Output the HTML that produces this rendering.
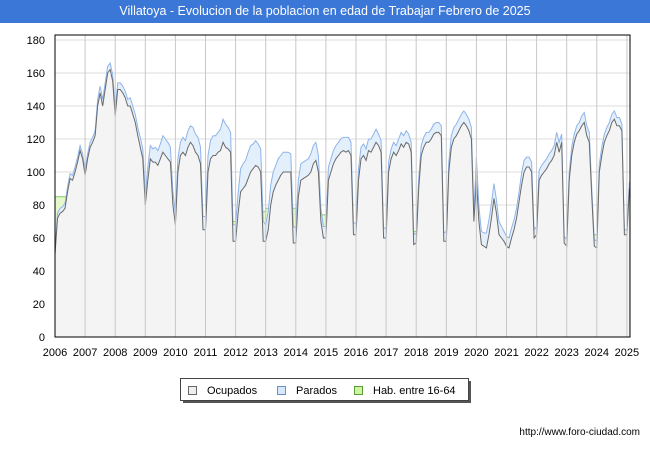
<!DOCTYPE html>
<html><head><meta charset="utf-8"><style>
body{margin:0;width:650px;height:450px;background:#fff;font-family:"Liberation Sans","DejaVu Sans",sans-serif;overflow:hidden;position:relative}
#title{position:absolute;left:0;top:0;width:650px;height:23px;background:#3a77d6;color:#fff;font-size:12.5px;line-height:23px;text-align:center}
#url{position:absolute;right:10px;top:427px;font-size:10px;color:#000}
</style></head><body>
<div id="title">Villatoya - Evolucion de la poblacion en edad de Trabajar Febrero de 2025</div>
<svg id="chart" width="650" height="450" style="position:absolute;left:0;top:0"></svg>
<div id="url">http://www.foro-ciudad.com</div>
<script>
const years=["2006","2007","2008","2009","2010","2011","2012","2013","2014","2015","2016","2017","2018","2019","2020","2021","2022","2023","2024","2025"];
const yTicks=[0,20,40,60,80,100,120,140,160,180];
const ocupados=[
50,72,75,76,78,88,96,95,100,106,113,108,
98,108,115,118,122,140,148,140,150,160,162,155,
134,150,150,148,145,140,140,135,130,122,115,108,
80,95,108,106,106,104,108,112,110,108,106,80,
68,100,110,112,110,115,118,116,112,110,105,65,
65,100,108,110,110,112,113,118,115,114,112,58,
58,75,88,90,92,96,100,102,104,103,100,58,
58,65,80,88,92,95,98,100,100,100,100,57,
57,85,95,96,97,98,100,105,107,100,70,60,
60,95,100,105,108,110,112,113,112,113,110,62,
62,95,108,110,107,113,112,115,118,116,112,60,
60,100,108,112,110,113,117,115,118,117,112,56,
57,90,110,115,118,118,120,123,124,124,122,58,
58,100,115,120,122,125,128,130,128,125,120,70,
95,70,56,55,54,62,72,84,75,62,60,58,
55,54,60,65,72,82,92,100,103,103,100,60,
62,95,98,100,102,105,107,110,118,112,118,57,
55,95,110,118,123,125,128,130,122,118,85,55,
54,100,110,118,122,125,130,132,128,128,125,62,
62,90];
const parados=[
2,3,3,3,3,3,3,3,3,3,3,3,
3,3,3,3,3,4,4,4,4,4,4,4,
4,4,4,4,4,4,5,5,5,5,6,6,
6,8,8,8,9,9,9,10,10,10,9,8,
7,8,8,9,9,10,10,11,11,11,10,8,
8,10,11,12,12,12,13,14,14,13,12,10,
10,12,14,15,15,16,16,15,15,14,14,12,
10,11,12,12,12,13,12,12,12,12,11,10,
9,10,10,10,10,10,11,11,11,10,8,7,
7,8,8,8,8,8,8,8,9,8,8,7,
7,7,7,7,7,7,8,8,8,7,7,6,
6,6,6,6,6,7,7,7,7,6,6,6,
6,6,6,6,6,6,6,6,6,6,6,5,
6,6,7,7,7,7,7,7,7,7,7,6,
14,9,8,8,9,9,9,9,8,8,7,6,
6,6,6,6,6,6,7,7,6,6,6,5,
5,6,6,6,6,6,6,6,6,6,5,4,
4,5,5,5,5,5,6,6,6,6,5,4,
4,5,5,5,5,5,5,5,5,5,4,3,
3,4];
const hab=[85,88,90,80,72,70,76,78,74,68,66,64,62,60,58,58,58,62,62,60];

const svg=document.getElementById('chart');
const NS='http://www.w3.org/2000/svg';
const X0=55,X1=630,Y0=337,YT=35;
const monthW=30.1/12;
function xs(i){return X0+i*monthW;}
function ys(v){return Y0-v*(297/180);}
function mk(tag,attrs){const e=document.createElementNS(NS,tag);for(const k in attrs)e.setAttribute(k,attrs[k]);svg.appendChild(e);return e;}

const bg=mk('rect',{x:X0,y:YT,width:X1-X0,height:Y0-YT,fill:'#fff'});


yTicks.forEach(v=>{
  const l=mk('line',{x1:X0,x2:X1,y1:ys(v),y2:ys(v),stroke:'#dcdcdc','stroke-width':1});
  
  
  const t=mk('text',{x:X0-10,y:ys(v)+4,'text-anchor':'end','font-size':11,fill:'#000'});
  t.textContent=v;
  
  
});
const n=ocupados.length;
let hp='M'+xs(0)+','+Y0;
for(let i=0;i<n;i++){const v=hab[Math.floor(i/12)];hp+=' L'+xs(i)+','+ys(v)+' L'+xs(i+1<n?i+1:i)+','+ys(v);}
hp+=' L'+xs(n-1)+','+Y0+'Z';
const ha=mk('path',{d:hp,fill:'#e6f9cc',stroke:'#7fcf6f','stroke-width':1});


let tp='M'+xs(0)+','+Y0;
for(let i=0;i<n;i++)tp+=' L'+xs(i)+','+ys(ocupados[i]+parados[i]);
tp+=' L'+xs(n-1)+','+Y0+'Z';
const pa=mk('path',{d:tp,fill:'#e3f0fc',stroke:'#8fb4ea','stroke-width':1});


let op='M'+xs(0)+','+Y0;
for(let i=0;i<n;i++)op+=' L'+xs(i)+','+ys(ocupados[i]);
op+=' L'+xs(n-1)+','+Y0+'Z';
const oa=mk('path',{d:op,fill:'#f4f4f4',stroke:'none'});


let ol='';
for(let i=0;i<n;i++)ol+=(i?' L':'M')+xs(i)+','+ys(ocupados[i]);
const oln=mk('path',{d:ol,fill:'none',stroke:'#6a6a6a','stroke-width':1});


years.forEach((y,k)=>{
  const x=xs(k*12);
  const l=mk('line',{x1:x,x2:x,y1:YT,y2:Y0,stroke:'#c8c8c8','stroke-width':1});
  
  
  const t=mk('text',{x:x,y:356,'text-anchor':'middle','font-size':11,fill:'#000'});
  t.textContent=y;
  
  
});
const fr=mk('rect',{x:X0,y:YT,width:X1-X0,height:Y0-YT,fill:'none',stroke:'#000','stroke-width':1});


const ls=mk('rect',{x:183,y:381,width:288,height:22,fill:'#555'});


const lb=mk('rect',{x:180.5,y:378.5,width:288,height:22,fill:'#fff',stroke:'#444'});


const items=[["Ocupados","#eeeeee","#666",188],["Parados","#d6e8fb","#6a8fc7",277],["Hab. entre 16-64","#ccf5a0","#5a9a3a",354]];
items.forEach(it=>{
  const r=mk('rect',{x:it[3]+0.5,y:386.5,width:8,height:8,fill:it[1],stroke:it[2]});
  
  
  const t=mk('text',{x:it[3]+19,y:394,'font-size':11,fill:'#000'});
  t.textContent=it[0];
  
  
});
</script>
</body></html>
